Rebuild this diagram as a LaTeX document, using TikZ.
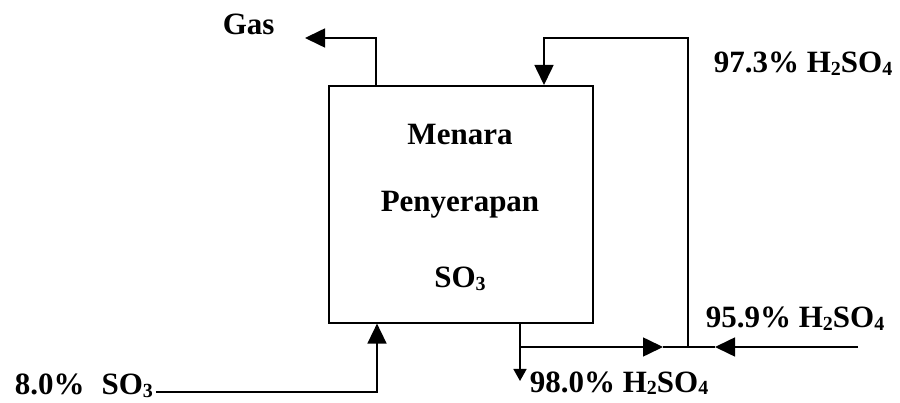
\documentclass[tikz,border=0pt]{standalone}
\usepackage{fontspec}
\setmainfont{Liberation Serif}
\usetikzlibrary{arrows.meta}
\newcommand{\sbs}[1]{\raisebox{-2.5pt}{\fontsize{20}{20}\selectfont #1}}
\begin{document}
\begin{tikzpicture}[x=1pt,y=-1pt, line width=1.6pt,
  arr/.style={-{Triangle[length=20pt,width=19pt]}},
  arrsmall/.style={-{Triangle[length=12pt,width=13pt]}},
  lbl/.style={font=\fontsize{31}{36}\selectfont\bfseries, inner sep=0pt, anchor=base west},
  ttl/.style={font=\fontsize{31}{36}\selectfont\bfseries, inner sep=0pt, anchor=base}]
\useasboundingbox (0,0) rectangle (900,403);
\node[draw, minimum width=264pt, minimum height=237pt, anchor=north west, inner sep=0pt] (tower) at (328,85) {};
\node[ttl] (t1) at (460,145) {Menara};
\node[ttl] (t2) at (460,212) {Penyerapan};
\node[ttl] (t3) at (460,288) {SO\sbs{3}};
% gas outlet
\coordinate (gasup) at (376,38);
\coordinate (gasend) at (305,38);
\draw[arr] (tower.north -| gasup) -- (gasup) -- (gasend);
\node[lbl] (gas) at (222,35) {Gas};
% recycle
\coordinate (rtop) at (688,38);
\coordinate (rin) at (544,38);
\coordinate (junc) at (688,347);
\draw[arr] (junc) -- (rtop) -- (rin) -- (tower.north -| rin);
\node[lbl] (l973) at (713,73) {97.3\% H\sbs{2}SO\sbs{4}};
% bottom product
\coordinate (split) at (520,347);
\coordinate (prod) at (520,381);
\draw[arrsmall] (tower.south -| split) -- (prod);
\node[lbl] (l980) at (529,392) {98.0\% H\sbs{2}SO\sbs{4}};
\coordinate (ahead) at (663,347);
\draw[arr] (split) -- (ahead);
\draw (ahead) -- (junc);
% fresh acid
\coordinate (fresh) at (858,347);
\coordinate (fhead) at (715,347);
\draw[arr] (fresh) -- (fhead);
\draw (fhead) -- (junc);
\node[lbl] (l959) at (705,328) {95.9\% H\sbs{2}SO\sbs{4}};
% SO3 feed
\coordinate (feedturn) at (377,392);
\node[lbl] (feed) at (14,395) {8.0\%\hspace{0.55em}SO\sbs{3}};
\draw[arr] ([xshift=2pt]feed.east |- feedturn) -- (feedturn) -- (tower.south -| feedturn);
\end{tikzpicture}
\end{document}
